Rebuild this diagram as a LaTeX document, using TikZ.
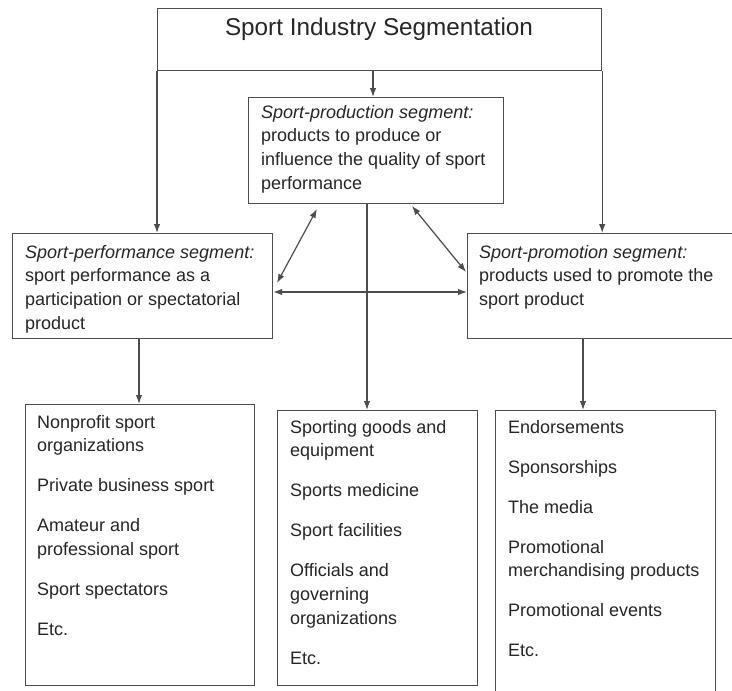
\documentclass[tikz,border=0pt]{standalone}
\usepackage{fontspec}
\setmainfont{Liberation Sans}
\usetikzlibrary{arrows.meta,calc}
\definecolor{ln}{HTML}{4D4D4D}
\definecolor{tx}{HTML}{262626}
\begin{document}
\begin{tikzpicture}[x=1pt,y=-1pt,
  box/.style={draw=ln, line width=1.2pt, anchor=north west, inner sep=0pt},
  txt/.style={text=tx, anchor=north west, inner sep=0pt, align=left,
              font=\fontsize{18}{23.7}\selectfont},
  arr/.style={draw=ln, line width=1.2pt, -{Latex[length=9pt,width=6.5pt]}},
  darr/.style={draw=ln, line width=1.2pt, {Latex[length=9pt,width=6.5pt]}-{Latex[length=9pt,width=6.5pt]}}]
\clip (0,0) rectangle (732,691);
\fill[white] (0,0) rectangle (732,691);
% boxes
\node[box, minimum width=444pt, minimum height=62pt] (top) at (157,8) {};
\node[box, minimum width=255pt, minimum height=106pt] (prod) at (248,97) {};
\node[box, minimum width=260pt, minimum height=105pt] (perf) at (12,233) {};
\node[box, minimum width=280pt, minimum height=105pt] (promo) at (467,233) {};
\node[box, minimum width=229pt, minimum height=281pt] (low1) at (25,404) {};
\node[box, minimum width=200pt, minimum height=275pt] (low2) at (277,410) {};
\node[box, minimum width=220pt, minimum height=300pt] (low3) at (495,410) {};
% texts
\node[text=tx, font=\fontsize{24.3}{29}\selectfont, inner sep=0pt] (title) at (379,29) {Sport Industry Segmentation};
\node[txt] (prodT) at (261,105) {\textit{Sport-production segment:}\\products to produce or\\influence the quality of sport\\performance};
\node[txt] (perfT) at (25,245) {\textit{Sport-performance segment:}\\sport performance as a\\participation or spectatorial\\product};
\node[txt] (promoT) at (479,245) {\textit{Sport-promotion segment:}\\products used to promote the\\sport product};
\node[txt] (low1T) at (37,415) {Nonprofit sport\\organizations\\[16.3pt]Private business sport\\[16.3pt]Amateur and\\professional sport\\[16.3pt]Sport spectators\\[16.3pt]Etc.};
\node[txt] (low2T) at (290,420) {Sporting goods and\\equipment\\[16.3pt]Sports medicine\\[16.3pt]Sport facilities\\[16.3pt]Officials and\\governing\\organizations\\[16.3pt]Etc.};
\node[txt] (low3T) at (508,420) {Endorsements\\[16.3pt]Sponsorships\\[16.3pt]The media\\[16.3pt]Promotional\\merchandising products\\[16.3pt]Promotional events\\[16.3pt]Etc.};
% helper coordinates
\coordinate (c1) at (373,0);
\coordinate (c2) at (367,0);
\coordinate (v1) at (139,0);
\coordinate (v3) at (583,0);
\coordinate (hy) at (0,292);
\coordinate (d1a) at (317,209);
\coordinate (d1b) at (277,283);
\coordinate (d2a) at (412,206);
\coordinate (d2b) at (466,272);
% connectors
\draw[arr] (top.south west) -- (top.south west |- perf.north);
\draw[arr] (top.south east) -- (top.south east |- promo.north);
\draw[arr] (c1 |- top.south) -- (c1 |- prod.north);
\draw[arr] (c2 |- prod.south) -- (c2 |- low2.north);
\draw[arr] (v1 |- perf.south) -- (v1 |- low1.north);
\draw[arr] (v3 |- promo.south) -- (v3 |- low3.north);
\draw[darr] (perf.east |- hy) -- (promo.west |- hy);
\draw[darr] (d1a) -- (d1b);
\draw[darr] (d2a) -- (d2b);
\end{tikzpicture}
\end{document}
